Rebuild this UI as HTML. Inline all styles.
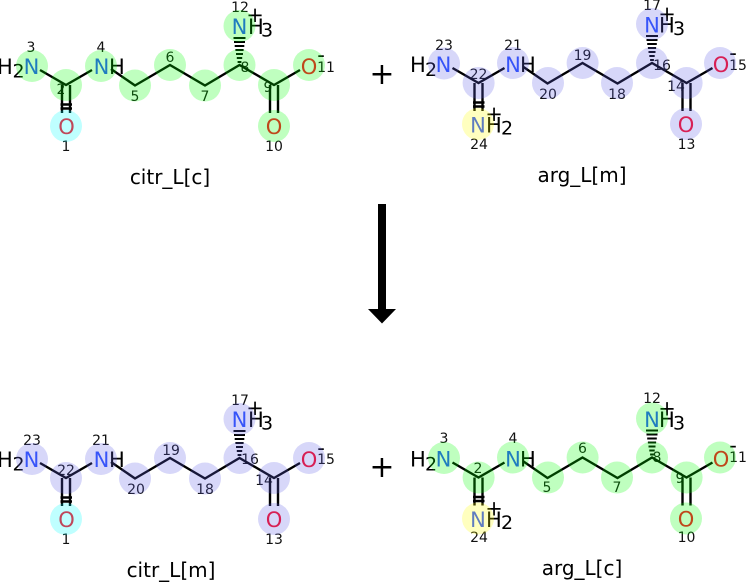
<!DOCTYPE html>
<html><head><meta charset="utf-8">
<style>
html,body{margin:0;padding:0;background:#fff}
svg{display:block}
text{font-family:"DejaVu Sans",sans-serif;fill:#000}
.n{font-size:14px;text-anchor:middle;fill:#111}
.a{font-size:21px;text-anchor:middle}
.h{font-size:21px}
.s{font-size:19px}
.t{font-size:20px;text-anchor:middle}
.N{fill:#2a50ff}.O{fill:#ff0a23}
.g{fill:rgba(0,255,0,.25)}.l{fill:rgba(96,96,232,.25)}.c{fill:rgba(0,255,255,.25)}.y{fill:rgba(255,255,0,.25)}
.b{fill:none;stroke:#000;stroke-width:2.4}
</style></head><body>
<svg width="746" height="582" viewBox="0 0 746 582" xmlns="http://www.w3.org/2000/svg">
<defs>
<g id="sk">
<path class="b" d="M40 70L66 85L92 70M111 69L135 85.5L170 65L205 85.5L239.5 65L274 85L300 70"/>
<path class="b" d="M62 85V113M70 85V113M270 85V113M278 85V113M60.5 104.5H72M60.5 108.5H72"/>
<path fill="#000" d="M233.5 37h12v2h-12zM234 41h11v2h-11zM234.7 45h9.6v2h-9.6zM235.4 49h8.2v2h-8.2zM236 53h7v2h-7zM236.8 57h5.4v2h-5.4zM237.6 61h3.8v2h-3.8z"/>
</g>
</defs>

<!-- top left: citr_L[c] -->
<g>
<text class="n" x="31" y="52">3</text><text class="n" x="101" y="52">4</text><text class="n" x="61" y="94">2</text>
<text class="n" x="135" y="101">5</text><text class="n" x="170" y="62">6</text><text class="n" x="205" y="101">7</text>
<text class="n" x="245" y="72">8</text><text class="n" x="268" y="92">9</text><text class="n" x="274" y="151">10</text>
<text class="n" x="326" y="72">11</text><text class="n" x="66" y="151">1</text><text class="n" x="240" y="12">12</text>
<use href="#sk"/>
<text class="h" x="-3" y="74">H</text><text class="s" x="12.5" y="77.5">2</text><text class="a N" x="31.5" y="74">N</text>
<text class="a N" x="101.5" y="74">N</text><text class="h" x="109" y="74">H</text>
<text class="a N" x="239.5" y="34">N</text><text class="h" x="248" y="34">H</text><text class="s" x="261" y="36.5">3</text><text class="a" x="255" y="22">+</text>
<text class="a O" x="309" y="74">O</text><text class="a" x="321" y="62">-</text><text class="a O" x="274" y="134">O</text><text class="a O" x="66.5" y="134">O</text>
<circle class="g" cx="32" cy="66" r="16"/><circle class="g" cx="66" cy="85" r="16"/><circle class="g" cx="101" cy="66" r="16"/><circle class="g" cx="135" cy="85.5" r="16"/><circle class="g" cx="170" cy="65" r="16"/><circle class="g" cx="205" cy="85.5" r="16"/><circle class="g" cx="239.5" cy="65" r="16"/><circle class="g" cx="274" cy="85" r="16"/><circle class="g" cx="309" cy="65" r="16"/><circle class="g" cx="274" cy="126" r="16"/><circle class="c" cx="66" cy="126" r="16"/><circle class="g" cx="239.5" cy="26" r="16"/>
<text class="t" x="170" y="184">citr_L[c]</text>
</g>

<!-- top right: arg_L[m] -->
<g>
<text class="n" x="444" y="50">23</text><text class="n" x="513" y="50">21</text><text class="n" x="478.5" y="79">22</text>
<text class="n" x="548" y="99">20</text><text class="n" x="582.5" y="60">19</text><text class="n" x="617" y="99">18</text>
<text class="n" x="662" y="70">16</text><text class="n" x="676" y="91">14</text><text class="n" x="686.5" y="149">13</text>
<text class="n" x="738" y="70">15</text><text class="n" x="479" y="149">24</text><text class="n" x="652" y="10">17</text>
<use href="#sk" transform="translate(412.5,-2)"/>
<text class="h" x="410" y="72">H</text><text class="s" x="425" y="76">2</text><text class="a N" x="443.5" y="72">N</text>
<text class="a N" x="513" y="72">N</text><text class="h" x="520" y="72">H</text>
<text class="a N" x="652" y="32.5">N</text><text class="h" x="659" y="32.5">H</text><text class="s" x="673" y="35">3</text><text class="a" x="667" y="21">+</text>
<text class="a O" x="721" y="72">O</text><text class="a" x="733" y="60">-</text><text class="a O" x="686" y="132">O</text>
<text class="a N" x="478" y="132.5">N</text><text class="h" x="486" y="132.5">H</text><text class="s" x="501" y="134.5">2</text><text class="a" x="494" y="121">+</text>
<circle class="l" cx="444" cy="63.5" r="16"/><circle class="l" cx="478.6" cy="83" r="16"/><circle class="l" cx="513" cy="63" r="16"/><circle class="l" cx="548" cy="83" r="16"/><circle class="l" cx="582.6" cy="63" r="16"/><circle class="l" cx="617" cy="83" r="16"/><circle class="l" cx="652" cy="63" r="16"/><circle class="l" cx="686.6" cy="83" r="16"/><circle class="l" cx="720" cy="63" r="16"/><circle class="l" cx="686" cy="124" r="16"/><circle class="y" cx="478" cy="124" r="16"/><circle class="l" cx="652" cy="24" r="16"/>
<text class="t" x="582" y="182">arg_L[m]</text>
</g>

<text x="382" y="84" style="font-size:30px;text-anchor:middle">+</text>

<!-- arrow -->
<path fill="#000" d="M378 204H386V309H396L382 323.5L368 309H378Z"/>

<!-- bottom left: citr_L[m] -->
<g>
<text class="n" x="32" y="445">23</text><text class="n" x="101" y="445">21</text><text class="n" x="66" y="475">22</text>
<text class="n" x="136" y="494">20</text><text class="n" x="171" y="455">19</text><text class="n" x="205" y="494">18</text>
<text class="n" x="250" y="464">16</text><text class="n" x="264" y="485">14</text><text class="n" x="274" y="544">13</text>
<text class="n" x="326" y="464">15</text><text class="n" x="66" y="544">1</text><text class="n" x="240" y="405">17</text>
<use href="#sk" transform="translate(0,393)"/>
<g transform="translate(0,393)">
<text class="h" x="-3" y="74">H</text><text class="s" x="12.5" y="77.5">2</text><text class="a N" x="31.5" y="74">N</text>
<text class="a N" x="101.5" y="74">N</text><text class="h" x="109" y="74">H</text>
<text class="a O" x="309" y="74">O</text><text class="a" x="321" y="62">-</text><text class="a O" x="274" y="134">O</text><text class="a O" x="66.5" y="134">O</text>
<text class="a N" x="239.5" y="34">N</text><text class="h" x="248" y="34">H</text><text class="s" x="261" y="36.5">3</text><text class="a" x="255" y="22">+</text>
<circle class="l" cx="32" cy="66" r="16"/><circle class="l" cx="66" cy="85" r="16"/><circle class="l" cx="101" cy="66" r="16"/><circle class="l" cx="135" cy="85.5" r="16"/><circle class="l" cx="170" cy="65" r="16"/><circle class="l" cx="205" cy="85.5" r="16"/><circle class="l" cx="239.5" cy="65" r="16"/><circle class="l" cx="274" cy="85" r="16"/><circle class="l" cx="309" cy="65" r="16"/><circle class="l" cx="274" cy="126" r="16"/><circle class="c" cx="66" cy="126" r="16"/><circle class="l" cx="239.5" cy="26" r="16"/>
</g>
<text class="t" x="171" y="577">citr_L[m]</text>
</g>

<!-- bottom right: arg_L[c] -->
<g>
<text class="n" x="444" y="443">3</text><text class="n" x="513" y="443">4</text><text class="n" x="478" y="473">2</text>
<text class="n" x="547" y="492">5</text><text class="n" x="582.5" y="453">6</text><text class="n" x="617" y="492">7</text>
<text class="n" x="657" y="462">8</text><text class="n" x="680" y="483">9</text><text class="n" x="686.5" y="542">10</text>
<text class="n" x="738" y="462">11</text><text class="n" x="479" y="542">24</text><text class="n" x="652" y="403">12</text>
<use href="#sk" transform="translate(412.5,392.5)"/>
<g transform="translate(0,394.5)">
<text class="h" x="410" y="72">H</text><text class="s" x="425" y="76">2</text><text class="a N" x="443.5" y="72">N</text>
<text class="a N" x="513" y="72">N</text><text class="h" x="520" y="72">H</text>
<text class="a N" x="652" y="32.5">N</text><text class="h" x="659" y="32.5">H</text><text class="s" x="673" y="35">3</text><text class="a" x="667" y="21">+</text>
<text class="a O" x="721" y="72">O</text><text class="a" x="733" y="58">-</text><text class="a O" x="686" y="132">O</text>
<text class="a N" x="478" y="132.5">N</text><text class="h" x="486" y="132.5">H</text><text class="s" x="501" y="134.5">2</text><text class="a" x="494" y="121">+</text>
<circle class="g" cx="444" cy="63.5" r="16"/><circle class="g" cx="478.6" cy="83" r="16"/><circle class="g" cx="513" cy="63" r="16"/><circle class="g" cx="548" cy="83" r="16"/><circle class="g" cx="582.6" cy="63" r="16"/><circle class="g" cx="617" cy="83" r="16"/><circle class="g" cx="652" cy="63" r="16"/><circle class="g" cx="686.6" cy="83" r="16"/><circle class="g" cx="720" cy="63" r="16"/><circle class="g" cx="686" cy="124" r="16"/><circle class="y" cx="478" cy="124" r="16"/><circle class="g" cx="652" cy="24" r="16"/>
</g>
<text class="t" x="582" y="575">arg_L[c]</text>
</g>

<text x="382" y="477" style="font-size:30px;text-anchor:middle">+</text>
</svg>
</body></html>
